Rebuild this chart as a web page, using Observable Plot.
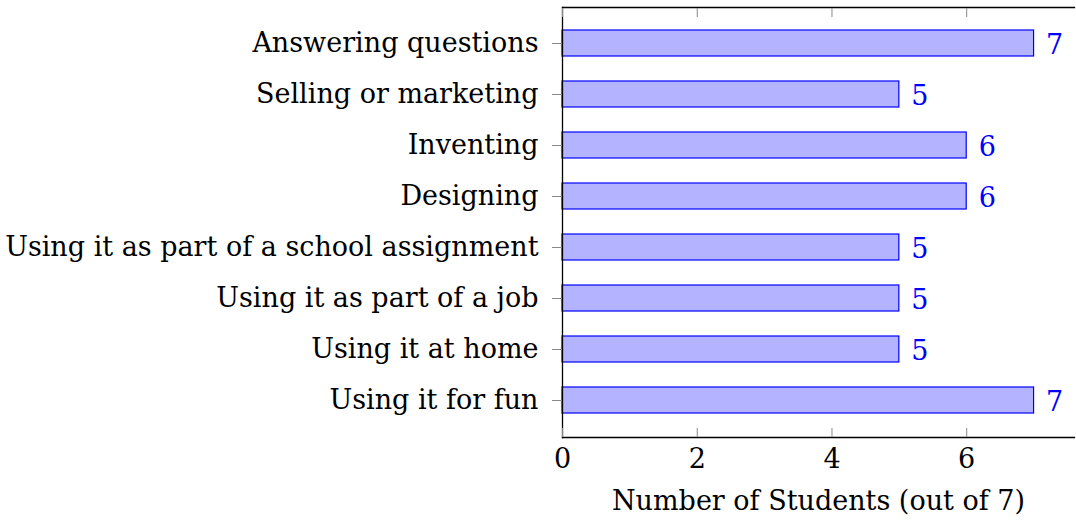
<!DOCTYPE html>
<html>
<head>
<meta charset="utf-8">
<script src="https://cdn.jsdelivr.net/npm/d3@7"></script>
<script src="https://cdn.jsdelivr.net/npm/@observablehq/plot@0.6"></script>
<style>
  html, body { margin: 0; padding: 0; background: #fff; }
  #chart svg { display: block; }
</style>
</head>
<body>
<div id="chart"></div>
<script>
const categories = [
  "Answering questions",
  "Selling or marketing",
  "Inventing",
  "Designing",
  "Using it as part of a school assignment",
  "Using it as part of a job",
  "Using it at home",
  "Using it for fun"
];
const counts = [7, 5, 6, 6, 5, 5, 5, 7];
const xTicks = [0, 2, 4, 6];
const xLabel = "Number of Students (out of 7)";

const data = categories.map((c, i) => ({category: c, count: counts[i]}));

const FONT = "DejaVu Serif";
const FS = 27;

const chart = Plot.plot({
  width: 1076,
  height: 523,
  marginLeft: 562,
  marginRight: 2,
  marginTop: 7,
  marginBottom: 86,
  style: "font-family: 'DejaVu Serif', serif; font-size: 27px; background: #fff; color: black;",
  x: {domain: [0, 7.6], ticks: xTicks},
  y: {domain: categories, paddingInner: 0.49, paddingOuter: 0.45},
  marks: [
    Plot.barX(data, {x: "count", y: "category", fill: "#b3b3ff", stroke: "#0000ff", strokeWidth: 1.2}),
    Plot.text(data, {x: "count", y: "category", text: d => String(d.count), textAnchor: "start", dx: 12, dy: 2, fill: "#0000ff", fontSize: FS, fontFamily: FONT}),
    Plot.frame({anchor: "top", stroke: "black", strokeWidth: 1.3}),
    Plot.frame({anchor: "left", stroke: "black", strokeWidth: 1.3}),
    Plot.frame({anchor: "bottom", stroke: "black", strokeWidth: 1.3}),
    Plot.axisY({tickSize: 10, stroke: "#888", text: null, label: null}),
    Plot.axisY({tickSize: 0, tickPadding: 24, fill: "black", fontSize: FS, fontFamily: FONT, label: null}),
    Plot.axisX({anchor: "bottom", ticks: xTicks, tickSize: -9, stroke: "#888", text: null, label: null}),
    Plot.axisX({anchor: "top", ticks: xTicks, tickSize: -9, stroke: "#888", text: null, label: null}),
    Plot.axisX({anchor: "bottom", ticks: xTicks, tickSize: 0, tickPadding: 11, fill: "black", fontSize: FS, fontFamily: FONT,
      label: xLabel, labelAnchor: "center", labelArrow: "none", labelOffset: 72})
  ]
});
document.getElementById("chart").appendChild(chart);
</script>
</body>
</html>
